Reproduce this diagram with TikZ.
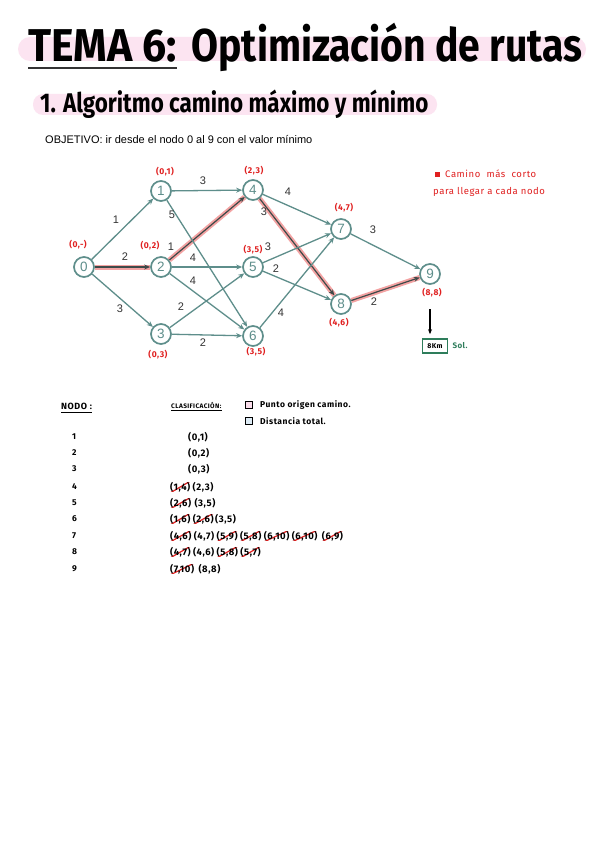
\documentclass[tikz,border=0pt]{standalone}
\usepackage{fontspec}
\setmainfont{Liberation Sans}
\newfontfamily\titlef{Fira Sans}
\newfontfamily\hand[LetterSpace=6]{Fira Sans}
\usetikzlibrary{arrows.meta}
\definecolor{teal1}{HTML}{5E8E8B}
\definecolor{pinkb}{HTML}{FCE4F1}
\definecolor{redh}{HTML}{E02020}
\definecolor{hil}{HTML}{F3A3A3}
\definecolor{solg}{HTML}{2E7D5B}
\definecolor{ink}{HTML}{333333}
\definecolor{boxpink}{HTML}{FADDEB}
\definecolor{boxblue}{HTML}{DDEBF5}
\begin{document}
\begin{tikzpicture}[x=1pt,y=-1pt,
 gnode/.style={circle,draw=teal1,line width=1.7pt,fill=white,minimum size=20pt,inner sep=0pt,text=teal1,font=\fontsize{13.5}{13.5}\selectfont},
 edge/.style={draw=teal1,line width=1.3pt,-{Stealth[length=6pt,width=5pt]}},
 hiedge/.style={draw=hil,line width=5pt},
 hidark/.style={draw=ink!75!teal1,line width=1.2pt,-{Stealth[length=6pt,width=5pt]}},
 wlab/.style={text=ink,font=\fontsize{11}{11}\selectfont,inner sep=0pt},
 rlab/.style={text=redh,font=\hand\bfseries\fontsize{8.5}{9}\selectfont,inner sep=0pt},
 tab/.style={font=\hand\bfseries\fontsize{8.5}{9}\selectfont,inner sep=0pt,anchor=west},
 val/.style={font=\hand\bfseries\fontsize{9.5}{10}\selectfont,inner sep=0pt,anchor=west},
 strike/.style={path picture={\draw[redh,line width=1.2pt] ([yshift=-1pt]path picture bounding box.south west) -- ([yshift=1pt]path picture bounding box.north east);}},
 chk/.style={draw=black,line width=1.1pt,minimum size=7pt,inner sep=0pt},
]
\useasboundingbox[fill=white] (0,0) rectangle (599,848);

% title
\fill[pinkb,rounded corners=12pt] (18,37) rectangle (586,61);
\node[anchor=base west,inner sep=0pt,font=\titlef\bfseries\fontsize{46}{46}\selectfont] (t1) at (28,62) {\scalebox{0.93}[1]{TEMA 6:}};
\node[anchor=base west,inner sep=0pt,font=\titlef\bfseries\fontsize{46}{46}\selectfont] (t2) at ([xshift=14pt]t1.base east) {\scalebox{0.85}[1]{Optimización de rutas}};
\draw[ink,line width=1.6pt] ([yshift=-5pt]t1.south west) -- ([yshift=-5pt]t1.south east);

% subtitle
\fill[pinkb,rounded corners=10pt] (33,94) rectangle (437,115);
\node[anchor=base west,inner sep=0pt,font=\titlef\bfseries\fontsize{27}{27}\selectfont] (sub) at (40,113) {\scalebox{0.83}[1]{1. Algoritmo camino máximo y mínimo}};

\node[anchor=base west,inner sep=0pt,font=\fontsize{11}{11}\selectfont] (obj) at (45,143) {OBJETIVO: ir desde el nodo 0 al 9 con el valor mínimo};

% graph nodes
\node[gnode] (n0) at (84,267) {0};
\node[gnode] (n1) at (161,191) {1};
\node[gnode] (n2) at (161,267) {2};
\node[gnode] (n3) at (161,334) {3};
\node[gnode] (n4) at (253,190) {4};
\node[gnode] (n5) at (253,267) {5};
\node[gnode] (n6) at (253,336) {6};
\node[gnode] (n7) at (341,229) {7};
\node[gnode] (n8) at (341,304) {8};
\node[gnode] (n9) at (430,274) {9};

% highlighted path
\draw[hiedge] (n0) -- (n2);
\draw[hiedge] (n2) -- (n4);
\draw[hiedge] (n4) -- (n8);
\draw[hiedge] (n8) -- (n9);
\draw[hidark] (n0) -- (n2);
\draw[hidark] (n2) -- (n4);
\draw[hidark] (n4) -- (n8);
\draw[hidark] (n8) -- (n9);

% edges
\draw[edge] (n0) -- (n1);
\draw[edge] (n0) -- (n3);
\draw[edge] (n1) -- (n4);
\draw[edge] (n1) -- (n6);
\draw[edge] (n2) -- (n5);
\draw[edge] (n2) -- (n6);
\draw[edge] (n3) -- (n5);
\draw[edge] (n3) -- (n6);
\draw[edge] (n4) -- (n7);
\draw[edge] (n5) -- (n7);
\draw[edge] (n5) -- (n8);
\draw[edge] (n6) -- (n7);
\draw[edge] (n7) -- (n9);

% weights
\node[wlab] (w01) at (116,220) {1};
\node[wlab] (w02) at (125,257) {2};
\node[wlab] (w03) at (120,309) {3};
\node[wlab] (w14) at (203,181) {3};
\node[wlab] (w16) at (172,215) {5};
\node[wlab] (w24) at (171,247) {1};
\node[wlab] (w25) at (193,258) {4};
\node[wlab] (w26) at (193,281) {4};
\node[wlab] (w35) at (181,307) {2};
\node[wlab] (w36) at (203,343) {2};
\node[wlab] (w47) at (288,192) {4};
\node[wlab] (w48) at (264,212) {3};
\node[wlab] (w57) at (268,247) {3};
\node[wlab] (w58) at (276,269) {2};
\node[wlab] (w67) at (281,313) {4};
\node[wlab] (w79) at (373,230) {3};
\node[wlab] (w89) at (374,302) {2};

% red labels
\node[rlab] (l0) at (78,245) {(0,-)};
\node[rlab] (l1) at (165,172) {(0,1)};
\node[rlab] (l2) at (150,246) {(0,2)};
\node[rlab] (l3) at (158,355) {(0,3)};
\node[rlab] (l4) at (254,171) {(2,3)};
\node[rlab] (l5) at (253,250) {(3,5)};
\node[rlab] (l6) at (256,352) {(3,5)};
\node[rlab] (l7) at (344,208) {(4,7)};
\node[rlab] (l8) at (339,323) {(4,6)};
\node[rlab] (l9) at (432,293) {(8,8)};

% solution
\coordinate (arrs) at (430,309);
\node[draw=solg,line width=1.6pt,minimum width=25pt,minimum height=14pt,inner sep=1pt,font=\hand\bfseries\fontsize{7}{7}\selectfont] (sol) at (435,346) {8Km};
\draw[black,line width=1.1pt,-{Stealth[length=5pt,width=4pt]}] (arrs) -- ([yshift=4pt]sol.north -| arrs);
\node[anchor=west,inner sep=0pt,text=solg,font=\hand\bfseries\fontsize{8}{8}\selectfont] (soltxt) at ([xshift=4pt]sol.east) {Sol.};

% legend
\node[fill=redh,minimum size=5pt,inner sep=0pt] (lsq) at (437,174) {};
\node[anchor=west,inner sep=0pt,text=redh,font=\hand\fontsize{9.5}{10}\selectfont] (leg1) at (445,174) {Camino\ \ más\ \ corto};
\node[anchor=west,inner sep=0pt,text=redh,font=\hand\fontsize{9.5}{10}\selectfont] (leg2) at (433,192) {para\ llegar\ a\ cada\ nodo};

% table header
\node[tab,font=\hand\bfseries\fontsize{9}{9}\selectfont] (hn) at (61,406) {NODO :};
\draw[black,line width=1pt] ([yshift=-3pt]hn.south west) -- ([yshift=-3pt]hn.south east);
\node[tab,font=\hand\bfseries\fontsize{6.5}{7}\selectfont] (hc) at (171,405) {CLASIFICACIÓN:};
\draw[black,line width=0.8pt] ([yshift=-2pt]hc.south west) -- ([yshift=-2pt]hc.south east);
\node[chk,fill=boxpink] (c1) at (249,405) {};
\node[tab] (c1t) at (260,405) {Punto origen camino.};
\node[chk,fill=boxblue] (c2) at (249,421) {};
\node[tab] (c2t) at (260,421) {Distancia total.};

% table rows
\node[tab] (k1) at (72,437) {1};
\node[tab] (k2) at (72,453) {2};
\node[tab] (k3) at (72,469) {3};
\node[tab] (k4) at (72,487) {4};
\node[tab] (k5) at (72,503) {5};
\node[tab] (k6) at (72,519) {6};
\node[tab] (k7) at (72,536) {7};
\node[tab] (k8) at (72,552) {8};
\node[tab] (k9) at (72,569) {9};

\node[val] (v1) at (188,437) {(0,1)};
\node[val] (v2) at (188,453) {(0,2)};
\node[val] (v3) at (188,469) {(0,3)};

\node[val,strike] (v4a) at (170,487) {(1,4)};
\node[val] (v4b) at ([xshift=2pt]v4a.east) {(2,3)};

\node[val,strike] (v5a) at (170,503) {(2,6)};
\node[val] (v5b) at ([xshift=3pt]v5a.east) {(3,5)};

\node[val,strike] (v6a) at (170,519) {(1,6)};
\node[val,strike] (v6b) at ([xshift=2pt]v6a.east) {(2,6)};
\node[val] (v6c) at ([xshift=1pt]v6b.east) {(3,5)};

\node[val,strike] (v7a) at (170,536) {(4,6)};
\node[val] (v7b) at ([xshift=2pt]v7a.east) {(4,7)};
\node[val,strike] (v7c) at ([xshift=2pt]v7b.east) {(5,9)};
\node[val,strike] (v7d) at ([xshift=2pt]v7c.east) {(5,8)};
\node[val,strike] (v7e) at ([xshift=2pt]v7d.east) {(6,10)};
\node[val,strike] (v7f) at ([xshift=2pt]v7e.east) {(6,10)};
\node[val,strike] (v7g) at ([xshift=4pt]v7f.east) {(6,9)};

\node[val,strike] (v8a) at (170,552) {(4,7)};
\node[val] (v8b) at ([xshift=2pt]v8a.east) {(4,6)};
\node[val,strike] (v8c) at ([xshift=2pt]v8b.east) {(5,8)};
\node[val,strike] (v8d) at ([xshift=2pt]v8c.east) {(5,7)};

\node[val,strike] (v9a) at (170,569) {(7,10)};
\node[val] (v9b) at ([xshift=4pt]v9a.east) {(8,8)};
\end{tikzpicture}
\end{document}
